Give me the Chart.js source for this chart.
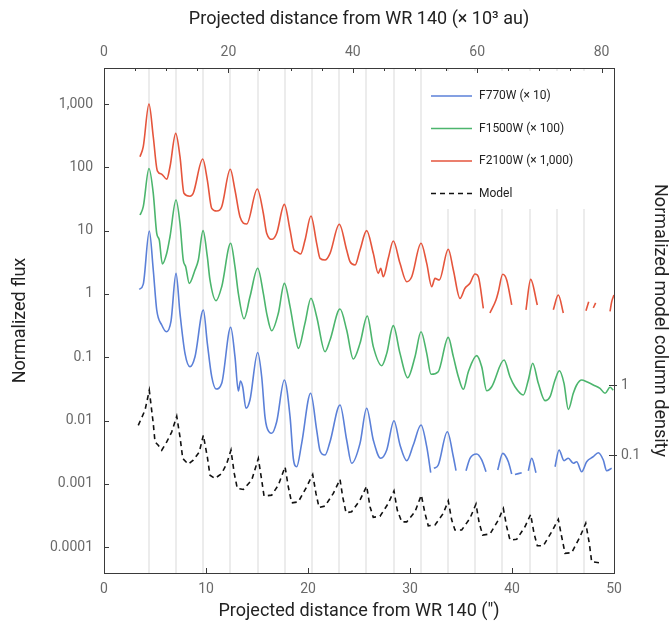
<!DOCTYPE html>
<html>
<head>
<meta charset="utf-8">
<script src="https://cdn.jsdelivr.net/npm/chart.js@4.4.0/dist/chart.umd.min.js"></script>
<style>
  html, body { margin: 0; padding: 0; background: #fff; }
  canvas { display: block; }
</style>
</head>
<body>
<canvas id="fluxChart" width="670" height="629"></canvas>
<script>
// Shell positions (arcsec) marked by the light vertical lines
const shellPositions = [4.41, 7.07, 9.73, 12.39, 15.06, 17.73, 20.39, 23.06, 25.72, 28.39, 31.05, 33.72, 36.38, 39.05, 41.72, 44.38, 47.05];

// Tick values / labels
const arcsecTicks = [0, 10, 20, 30, 40, 50];
const auTicks = [0, 20, 40, 60, 80];
const auMinorTicks = [5, 10, 15, 25, 30, 35, 45, 50, 55, 65, 70, 75];
const fluxTicks = [0.0001, 0.001, 0.01, 0.1, 1, 10, 100, 1000];
const fluxTickLabels = ['0.0001', '0.001', '0.01', '0.1', '1', '10', '100', '1,000'];
const densityTicks = [0.1, 1];
const densityTickLabels = ['0.1', '1'];

// Axis titles
const bottomTitle = 'Projected distance from WR 140 (″)';
const topTitle = 'Projected distance from WR 140 (× 10³ au)';
const leftTitle = 'Normalized flux';
const rightTitle = 'Normalized model column density';

// F770W (x 10)
const f770wX = [3.46, 3.85, 4.44, 4.83, 5.17, 5.66, 6.11, 6.57, 7.06, 7.45, 7.94, 8.43, 8.92, 9.74, 10.13, 10.56, 10.98, 11.54, 12.42, 12.84, 13.17, 13.38, 13.6, 13.92, 14.31, 15.07, 15.46, 15.78, 15.95, 16.44, 16.93, 17.68, 18.24, 18.56, 18.89, 19.38, 20.26, 20.85, 21.18, 21.67, 22.16, 23.14, 23.79, 24.28, 25.1, 25.75, 26.4, 27.13, 27.72, 28.43, 29.02, 29.68, 30.32, 31.08, 31.64, 32.03, 32.2, 32.35, 32.77, 33.66, 34.25, 34.51, 35, 35.49, 35.88, 36.54, 37.03, 37.45, 38, 38.6, 39.09, 39.64, 39.97, 40.1, 40.29, 40.95, 41.3, 41.6, 41.93, 42.35, 43, 44.22, 44.61, 45.1, 45.52, 46.01, 46.34, 46.83, 47.32, 47.97, 48.46, 48.95, 49.28, 49.77];
const f770wY = [1.18, 1.43, 9.86, 2.39, 0.557, 0.323, 0.253, 0.373, 2.11, 0.494, 0.115, 0.0708, 0.102, 0.557, 0.166, 0.0492, 0.0315, 0.0387, 0.297, 0.102, 0.0292, 0.042, 0.0338, 0.0156, 0.0211, 0.119, 0.0492, 0.0115, 0.00798, 0.00628, 0.00957, 0.0436, 0.0115, 0.00253, 0.00186, 0.00436, 0.0269, 0.00708, 0.00334, 0.00285, 0.00462, 0.0176, 0.00492, 0.00211, 0.00436, 0.0156, 0.00492, 0.00253, 0.00342, 0.00993, 0.0041, 0.00232, 0.0041, 0.00849, 0.00386, 0.0015, null, 0.00176, 0.00198, 0.00665, 0.00268, 0.00161, null, 0.00161, 0.00253, 0.00296, 0.00238, 0.00155, null, 0.00165, 0.00303, 0.00223, 0.00143, null, 0.0014, 0.0015, null, 0.00161, 0.00253, 0.0015, null, 0.00186, 0.00342, 0.00232, 0.00253, 0.00211, 0.00223, 0.00155, 0.00223, 0.00268, 0.0031, 0.00238, 0.00161, 0.00176];

// F1500W (x 100)
const f1500wX = [3.53, 3.85, 4.41, 4.83, 5.17, 5.42, 5.72, 6.15, 6.47, 7.06, 7.45, 7.77, 8.01, 8.36, 8.92, 9.25, 9.71, 10.13, 10.39, 10.98, 11.54, 12.42, 12.84, 13.17, 13.73, 14.31, 15.07, 15.62, 15.95, 16.44, 17.09, 17.68, 18.24, 18.73, 19.05, 19.7, 20.29, 20.85, 21.67, 22.16, 23.14, 23.79, 24.44, 25.1, 25.81, 26.4, 27.23, 27.72, 28.36, 29.02, 29.77, 30.49, 31.08, 31.64, 32.06, 32.77, 33.75, 34.25, 34.74, 35.23, 35.72, 36.54, 37.03, 37.52, 38.01, 39.22, 39.8, 40.29, 41.11, 41.6, 42.03, 42.58, 43.24, 43.73, 44.22, 44.64, 45.1, 45.52, 46.01, 46.34, 46.83, 47.32, 47.97, 48.63, 49.12, 49.61, 49.93];
const f1500wY = [17.6, 23.9, 96, 38.8, 9.06, 7.1, 2.97, 4.38, 8.0, 30.4, 13, 3.43, 2.69, 1.47, 2.39, 3.43, 10, 3.87, 1.66, 0.78, 1.3, 6.3, 2.69, 1.02, 0.405, 0.9, 2.54, 1.02, 0.494, 0.262, 0.494, 1.47, 0.63, 0.224, 0.138, 0.343, 0.855, 0.437, 0.122, 0.187, 0.577, 0.269, 0.0937, 0.166, 0.448, 0.147, 0.0735, 0.115, 0.315, 0.115, 0.0474, 0.102, 0.253, 0.115, 0.0537, 0.059, 0.206, 0.102, 0.0492, 0.0311, 0.059, 0.106, 0.0708, 0.0296, 0.0342, 0.0903, 0.0492, 0.0342, 0.0253, 0.0436, 0.0802, 0.0387, 0.0206, 0.0238, 0.0436, 0.0612, 0.0387, 0.015, 0.0269, 0.0364, 0.0436, 0.041, 0.0364, 0.0323, 0.0269, 0.0335, 0.0303];

// F2100W (x 1,000)
const f2100wX = [3.53, 3.85, 4.41, 4.83, 5.23, 5.66, 6.15, 6.47, 7.03, 7.45, 7.84, 8.43, 8.75, 9.68, 10.13, 10.56, 11.05, 11.54, 12.38, 12.84, 13.33, 13.99, 15.03, 15.62, 15.95, 16.5, 16.93, 17.68, 18.24, 18.63, 18.89, 19.28, 19.71, 20.29, 20.85, 21.18, 21.67, 22.16, 23.07, 23.79, 24.12, 24.61, 25.1, 25.75, 26.4, 26.89, 27.13, 27.38, 27.87, 28.36, 29.02, 29.68, 30.17, 31.08, 31.64, 32.13, 32.45, 32.87, 33.75, 34.25, 34.9, 35.39, 35.88, 36.37, 36.7, 37.19, 37.5, 37.84, 38.43, 38.66, 39.09, 39.48, 39.97, 40.6, 41.37, 41.83, 42.48, 43.2, 44.05, 44.54, 45.03, 46, 47.25, 47.52, 47.75, 47.97, 48.2, 49, 49.61, 49.77, 50];
const f2100wY = [147, 212, 1000, 304, 88, 78, 65, 102, 344, 147, 39, 35, 39, 135, 63, 22.5, 20.4, 23.9, 93, 43.8, 16.6, 12.7, 45.4, 18.8, 9.06, 7.29, 9.06, 26, 10.2, 4.94, 4.65, 4.27, 7.1, 17, 6.3, 3.65, 3.43, 4.38, 12.6, 4.94, 3.23, 2.86, 4.94, 10, 4.38, 2.11, 2.54, 1.87, 3.65, 6.85, 3.04, 1.56, 1.87, 6.3, 3.04, 1.3, 1.76, 1.66, 5.07, 2.39, 0.85, 1.23, 1.47, 2.06, 1.87, 0.59, null, 0.5, 0.8, 1.08, 2.04, 1.66, 0.67, null, 0.56, 1.7, 0.67, null, 0.56, 0.96, 0.5, null, 0.54, 0.75, null, 0.6, 0.72, null, 0.53, 0.75, 0.96];

// Model (normalized column density, right axis)
const modelX = [3.36, 4.02, 4.44, 4.83, 5.0, 5.32, 5.66, 6.15, 6.64, 7.13, 7.45, 7.72, 8.26, 8.75, 9.34, 9.74, 10.13, 10.39, 10.88, 11.54, 12.03, 12.45, 12.77, 13.07, 13.66, 14.48, 15.13, 15.46, 15.69, 16.44, 17.09, 17.75, 18.07, 18.4, 19.05, 19.87, 20.46, 20.78, 21.08, 21.67, 22.48, 23.14, 23.4, 23.73, 24.28, 25.1, 25.75, 26.08, 26.4, 27.06, 27.87, 28.43, 28.75, 29.19, 29.68, 30.49, 31.11, 31.47, 31.79, 32.45, 33.26, 33.75, 34.09, 34.41, 35.07, 35.88, 36.47, 36.79, 37.13, 37.84, 38.66, 39.15, 39.48, 39.8, 40.46, 41.27, 41.83, 42.16, 42.48, 43.07, 43.89, 44.54, 44.87, 45.2, 45.85, 46.67, 47.23, 47.58, 47.81, 48.56];
const modelY = [0.268, 0.44, 0.849, 0.284, 0.155, 0.139, 0.118, 0.155, 0.215, 0.361, 0.183, 0.0897, 0.0744, 0.0848, 0.111, 0.193, 0.0946, 0.0518, 0.0465, 0.0548, 0.0761, 0.118, 0.0548, 0.0334, 0.0323, 0.044, 0.0897, 0.044, 0.026, 0.0268, 0.0373, 0.068, 0.0353, 0.0208, 0.0215, 0.0353, 0.053, 0.0284, 0.0179, 0.0187, 0.0284, 0.045, 0.0254, 0.015, 0.0155, 0.0228, 0.0361, 0.0183, 0.0129, 0.0134, 0.0204, 0.0309, 0.0164, 0.0111, 0.0111, 0.0155, 0.0268, 0.0147, 0.00977, 0.01, 0.0147, 0.0222, 0.0118, 0.0085, 0.0085, 0.0125, 0.02, 0.0106, 0.0072, 0.00744, 0.0118, 0.0173, 0.00946, 0.0061, 0.00625, 0.00946, 0.0142, 0.0076, 0.00506, 0.00506, 0.00802, 0.0121, 0.00681, 0.00394, 0.00402, 0.00681, 0.0106, 0.00548, 0.00299, 0.00289];

const FONT = 'Roboto, "Liberation Sans", sans-serif';
const TICK_COLOR = '#6a6a6a';
const TITLE_COLOR = '#222';
const AXIS_COLOR = '#3a3a3a';

function toPoints(xs, ys) {
    return xs.map((x, i) => ({ x: x, y: ys[i] }));
}

function fixedTicks(values) {
    return scale => { scale.ticks = values.map(v => ({ value: v })); };
}

// short inward tick marks on all four sides
const innerTicks = {
    id: 'innerTicks',
    afterDraw(chart) {
        const { ctx, chartArea: a, scales } = chart;
        ctx.save();
        ctx.strokeStyle = AXIS_COLOR;
        ctx.lineWidth = 1;
        ctx.beginPath();
        arcsecTicks.slice(1, -1).forEach(v => {
            const x = Math.round(scales.x.getPixelForValue(v)) + 0.5;
            ctx.moveTo(x, a.bottom); ctx.lineTo(x, a.bottom - 5);
        });
        auTicks.slice(1).forEach(v => {
            const x = Math.round(scales.xTop.getPixelForValue(v)) + 0.5;
            ctx.moveTo(x, a.top); ctx.lineTo(x, a.top + 5);
        });
        auMinorTicks.forEach(v => {
            const x = Math.round(scales.xTop.getPixelForValue(v)) + 0.5;
            ctx.moveTo(x, a.top); ctx.lineTo(x, a.top + 3);
        });
        fluxTicks.forEach(v => {
            const y = Math.round(scales.y.getPixelForValue(v)) + 0.5;
            ctx.moveTo(a.left, y); ctx.lineTo(a.left + 5, y);
        });
        densityTicks.forEach(v => {
            const y = Math.round(scales.yDensity.getPixelForValue(v)) + 0.5;
            ctx.moveTo(a.right + 3, y); ctx.lineTo(a.right - 5, y);
        });
        ctx.stroke();
        ctx.restore();
    }
};

// axis titles, centred on the plot box
const axisTitles = {
    id: 'axisTitles',
    afterDraw(chart) {
        const { ctx, chartArea: a } = chart;
        const cx = (a.left + a.right) / 2;
        const cy = (a.top + a.bottom) / 2;
        const put = (text, x, y, angle) => {
            ctx.save();
            ctx.translate(x, y);
            ctx.rotate(angle);
            ctx.fillText(text, 0, 0);
            ctx.restore();
        };
        ctx.save();
        ctx.fillStyle = TITLE_COLOR;
        ctx.textAlign = 'center';
        ctx.textBaseline = 'middle';
        ctx.font = '18px ' + FONT;
        put(bottomTitle, cx, 611, 0);
        put(topTitle, cx, 19, 0);
        put(leftTitle, 20, cy, -Math.PI / 2);
        put(rightTitle, 659, cy, Math.PI / 2);
        ctx.restore();
    }
};

// legend box in the upper right of the plot
const boxLegend = {
    id: 'boxLegend',
    afterDatasetsDraw(chart) {
        const ctx = chart.ctx;
        ctx.save();
        ctx.fillStyle = '#fff';
        ctx.fillRect(424, 71, 188, 138);
        ctx.font = '12px ' + FONT;
        ctx.textBaseline = 'middle';
        ctx.fillStyle = TITLE_COLOR;
        chart.data.datasets.forEach((ds, i) => {
            const y = 96 + i * 32.5;
            ctx.strokeStyle = ds.borderColor;
            ctx.lineWidth = ds.borderWidth;
            ctx.setLineDash(ds.borderDash || []);
            ctx.beginPath();
            ctx.moveTo(431, y); ctx.lineTo(472, y);
            ctx.stroke();
            ctx.fillText(ds.label, 479, y);
        });
        ctx.restore();
    }
};

const lineStyle = { pointRadius: 0, borderWidth: 1.6, fill: false, spanGaps: false, cubicInterpolationMode: 'monotone' };
const tickFont = { family: FONT, size: 14 };

new Chart(document.getElementById('fluxChart'), {
    type: 'line',
    data: {
        datasets: [
            Object.assign({ label: 'F770W (× 10)', data: toPoints(f770wX, f770wY), borderColor: '#5b80d8', yAxisID: 'y' }, lineStyle),
            Object.assign({ label: 'F1500W (× 100)', data: toPoints(f1500wX, f1500wY), borderColor: '#4cb56d', yAxisID: 'y' }, lineStyle),
            Object.assign({ label: 'F2100W (× 1,000)', data: toPoints(f2100wX, f2100wY), borderColor: '#e5553c', yAxisID: 'y' }, lineStyle),
            { label: 'Model', data: toPoints(modelX, modelY), borderColor: '#111', borderDash: [5, 4], borderWidth: 1.6, pointRadius: 0, tension: 0, yAxisID: 'yDensity' }
        ]
    },
    options: {
        responsive: false,
        animation: false,
        layout: { padding: 0 },
        plugins: { legend: { display: false }, tooltip: { enabled: false } },
        scales: {
            x: {
                type: 'linear', position: 'bottom', min: 0, max: 50,
                afterBuildTicks: fixedTicks(arcsecTicks),
                afterFit: s => { s.height = 56; },
                grid: { display: false, drawTicks: false },
                border: { display: true, color: AXIS_COLOR, width: 1 },
                ticks: { color: TICK_COLOR, font: tickFont, padding: 8, maxRotation: 0, autoSkip: false }
            },
            shells: {
                type: 'linear', position: 'bottom', min: 0, max: 50,
                afterBuildTicks: fixedTicks(shellPositions),
                afterFit: s => { s.height = 0; },
                grid: { display: true, drawTicks: false, color: '#ececec', lineWidth: 2 },
                border: { display: false },
                ticks: { display: false }
            },
            xTop: {
                type: 'linear', position: 'top', min: 0, max: 82,
                afterBuildTicks: fixedTicks(auTicks),
                afterFit: s => { s.height = 68; },
                grid: { display: false, drawTicks: false },
                border: { display: true, color: AXIS_COLOR, width: 1 },
                ticks: { color: TICK_COLOR, font: tickFont, padding: 7, maxRotation: 0, autoSkip: false }
            },
            y: {
                type: 'logarithmic', position: 'left', min: 3.9e-5, max: 3707,
                afterBuildTicks: fixedTicks(fluxTicks),
                afterFit: s => { s.width = 104; },
                grid: { display: false, drawTicks: false },
                border: { display: true, color: AXIS_COLOR, width: 1 },
                ticks: { color: TICK_COLOR, font: tickFont, padding: 11, autoSkip: false,
                    callback: v => fluxTickLabels[fluxTicks.indexOf(v)] }
            },
            yDensity: {
                type: 'logarithmic', position: 'right', min: 0.00206, max: 34900,
                afterBuildTicks: fixedTicks(densityTicks),
                afterFit: s => { s.width = 56; },
                grid: { display: false, drawTicks: false },
                border: { display: true, color: AXIS_COLOR, width: 1 },
                ticks: { color: TICK_COLOR, font: tickFont, padding: 7, autoSkip: false,
                    callback: v => densityTickLabels[densityTicks.indexOf(v)] }
            }
        }
    },
    plugins: [boxLegend, innerTicks, axisTitles]
});
</script>
</body>
</html>
